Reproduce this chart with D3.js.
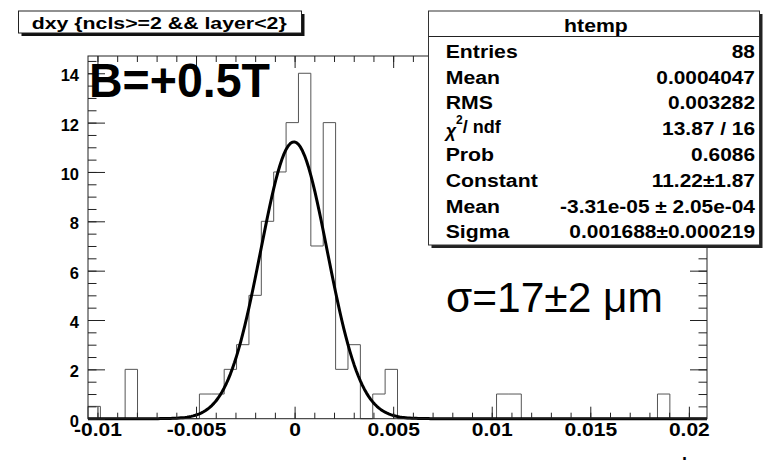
<!DOCTYPE html>
<html>
<head>
<meta charset="utf-8">
<script src="https://cdn.jsdelivr.net/npm/d3@7"></script>
<style>
  body { margin: 0; background: #fff; }
  svg { display: block; font-family: "Liberation Sans", Arial, sans-serif; }
</style>
</head>
<body>
<svg id="chart" width="763" height="460"></svg>
<script>
// histogram: 50 bins of dxy
const xLow = -0.01048
const xHigh = 0.02092
const binCounts = [0.5, 0, 0, 2, 0, 0, 0, 0, 0, 1,
                   1, 2, 3, 5, 8, 10, 12, 14, 7, 12,
                   2, 3, 0, 1, 2, 0, 0, 0, 0, 0,
                   0, 0, 0, 1, 1, 0, 0, 0, 0, 0,
                   0, 0, 0, 0, 0, 0, 1, 0, 0, 0]
// gaussian fit: constant, mean, sigma
const fitParams = [11.22, -3.31e-05, 0.001688]

const xMajor = [-0.01, -0.005, 0, 0.005, 0.01, 0.015, 0.02]
const xLabels = ["-0.01", "-0.005", "0", "0.005", "0.01", "0.015", "0.02"]
const yMajor = [0, 2, 4, 6, 8, 10, 12, 14]
const yMax = 14.7

const statNames = ["Entries", "Mean", "RMS", "chi2", "Prob", "Constant", "Mean", "Sigma"]
const statValues = ["88", "0.0004047", "0.003282", "13.87 / 16", "0.6086", "11.22\u00b11.87", "-3.31e-05 \u00b1 2.05e-04", "0.001688\u00b10.000219"]

const svg = d3.select("#chart")
svg.append("rect").attr("width", 763).attr("height", 460).attr("fill", "#fff")

const frame = {left: 88, right: 707, top: 56, bottom: 418.7}
const x = d3.scaleLinear().domain([xLow, xHigh]).range([frame.left, frame.right])
const y = d3.scaleLinear().domain([0, yMax]).range([frame.bottom, frame.top])

function stretch(sel, k){
    sel.each(function(){
        let n = this.getComputedTextLength()
        d3.select(this).attr("textLength", n * k).attr("lengthAdjust", "spacingAndGlyphs")
    })
}

// histogram outline
let binW = (xHigh - xLow) / binCounts.length
let pts = [[x(xLow), y(0)]]
binCounts.forEach((c, i) => {
    pts.push([x(xLow + i * binW), y(c)])
    pts.push([x(xLow + (i + 1) * binW), y(c)])
})
pts.push([x(xHigh), y(0)])
svg.append("path")
    .attr("d", d3.line()(pts))
    .attr("fill", "none")
    .attr("stroke", "#555")
    .attr("stroke-width", 1)

// fit curve
let gaus = (v) => fitParams[0] * Math.exp(-0.5 * Math.pow((v - fitParams[1]) / fitParams[2], 2))
let curve = d3.range(0, 301).map(i => xLow + i * (xHigh - xLow) / 300)
svg.append("path")
    .datum(curve)
    .attr("d", d3.line().x(d => x(d)).y(d => y(gaus(d))))
    .attr("fill", "none")
    .attr("stroke", "#000")
    .attr("stroke-width", 3)
    .attr("stroke-linejoin", "round")

// frame
svg.append("rect")
    .attr("x", frame.left).attr("y", frame.top)
    .attr("width", frame.right - frame.left).attr("height", frame.bottom - frame.top)
    .attr("fill", "none").attr("stroke", "#222").attr("stroke-width", 1)

let xMinor = d3.range(-10, 21).map(i => i * 0.001).filter(v => v >= xLow && v <= xHigh)
let yMinor = d3.range(0, 30).map(i => i * 0.5).filter(v => v <= yMax)

function tickAxis(axis, transform){
    let g = svg.append("g").attr("transform", transform).call(axis)
    g.select(".domain").remove()
    g.selectAll("line").attr("stroke", "#222")
    return g
}

tickAxis(d3.axisBottom(x).tickValues(xMinor).tickSize(-6).tickFormat(""), `translate(0,${frame.bottom})`)
tickAxis(d3.axisTop(x).tickValues(xMinor).tickSize(-6).tickFormat(""), `translate(0,${frame.top})`)
tickAxis(d3.axisTop(x).tickValues(xMajor).tickSize(-12).tickFormat(""), `translate(0,${frame.top})`)
let gx = tickAxis(d3.axisBottom(x).tickValues(xMajor).tickSize(-12).tickPadding(5)
        .tickFormat((d, i) => xLabels[i]), `translate(0,${frame.bottom})`)
gx.selectAll("text")
    .attr("font-size", 17.5).attr("font-weight", "bold").attr("fill", "#000")
    .attr("font-family", "Liberation Sans, Arial, sans-serif")
    .call(stretch, 1.2)

tickAxis(d3.axisLeft(y).tickValues(yMinor).tickSize(-8.5).tickFormat(""), `translate(${frame.left},0)`)
tickAxis(d3.axisRight(y).tickValues(yMinor).tickSize(-8.5).tickFormat(""), `translate(${frame.right},0)`)
tickAxis(d3.axisRight(y).tickValues(yMajor).tickSize(-17).tickFormat(""), `translate(${frame.right},0)`)
let gy = tickAxis(d3.axisLeft(y).tickValues(yMajor).tickSize(-17).tickPadding(9), `translate(${frame.left},0)`)
gy.selectAll("text")
    .attr("font-size", 16.5).attr("font-weight", "bold").attr("fill", "#000")
    .attr("font-family", "Liberation Sans, Arial, sans-serif")
    .attr("dy", "0.45em")

// x axis title, mostly below the picture
svg.append("text")
    .attr("x", frame.right).attr("y", 470)
    .attr("text-anchor", "end")
    .attr("font-size", 18).attr("font-weight", "bold")
    .text("dxy")

// big annotations
svg.append("text")
    .attr("x", 89).attr("y", 96.5)
    .attr("font-size", 49).attr("font-weight", "bold")
    .attr("textLength", 181).attr("lengthAdjust", "spacingAndGlyphs")
    .text("B=+0.5T")

svg.append("text")
    .attr("x", 446).attr("y", 311.5)
    .attr("font-size", 42)
    .attr("textLength", 217).attr("lengthAdjust", "spacingAndGlyphs")
    .text("\u03c3=17\u00b12 \u03bcm")

// title box
let tb = {x: 18.5, y: 11, w: 283, h: 22}
svg.append("rect").attr("x", tb.x + 3).attr("y", tb.y + 3).attr("width", tb.w).attr("height", tb.h).attr("fill", "#111")
svg.append("rect").attr("x", tb.x).attr("y", tb.y).attr("width", tb.w).attr("height", tb.h)
    .attr("fill", "#fff").attr("stroke", "#222").attr("stroke-width", 1)
svg.append("text")
    .attr("x", 31.7).attr("y", 28.5)
    .attr("font-size", 16.5).attr("font-weight", "bold")
    .attr("textLength", 255).attr("lengthAdjust", "spacingAndGlyphs")
    .text("dxy {ncls>=2 && layer<2}")

// stats box
let sb = {x: 428.5, y: 11, w: 331, h: 234}
svg.append("rect").attr("x", sb.x + 3).attr("y", sb.y + 3).attr("width", sb.w).attr("height", sb.h).attr("fill", "#222")
svg.append("rect").attr("x", sb.x).attr("y", sb.y).attr("width", sb.w).attr("height", sb.h)
    .attr("fill", "#fff").attr("stroke", "#333").attr("stroke-width", 1)
svg.append("line")
    .attr("x1", sb.x).attr("x2", sb.x + sb.w).attr("y1", 36.5).attr("y2", 36.5)
    .attr("stroke", "#222")
svg.append("text")
    .attr("x", sb.x + sb.w / 2 + 2).attr("y", 31.5)
    .attr("text-anchor", "middle")
    .attr("font-size", 18).attr("font-weight", "bold")
    .text("htemp")
    .call(stretch, 1.18)

let rowY = (i) => 57.7 + i * 25.8
statNames.forEach((name, i) => {
    let t = svg.append("text")
        .attr("x", 445.7).attr("y", rowY(i))
        .attr("font-size", 18).attr("font-weight", "bold")
    if (name == "chi2"){
        t.attr("y", rowY(i) - 2)
        t.append("tspan").attr("font-style", "italic").attr("dy", 4).text("\u03c7")
        t.append("tspan").attr("font-size", 12).attr("dy", -13).text("2")
        t.append("tspan").attr("dy", 9).text("/ ndf")
    } else {
        t.text(name).call(stretch, 1.18)
    }
    svg.append("text")
        .attr("x", 755).attr("y", rowY(i))
        .attr("text-anchor", "end")
        .attr("font-size", 18).attr("font-weight", "bold")
        .text(statValues[i])
        .call(stretch, 1.16)
})
</script>
</body>
</html>
